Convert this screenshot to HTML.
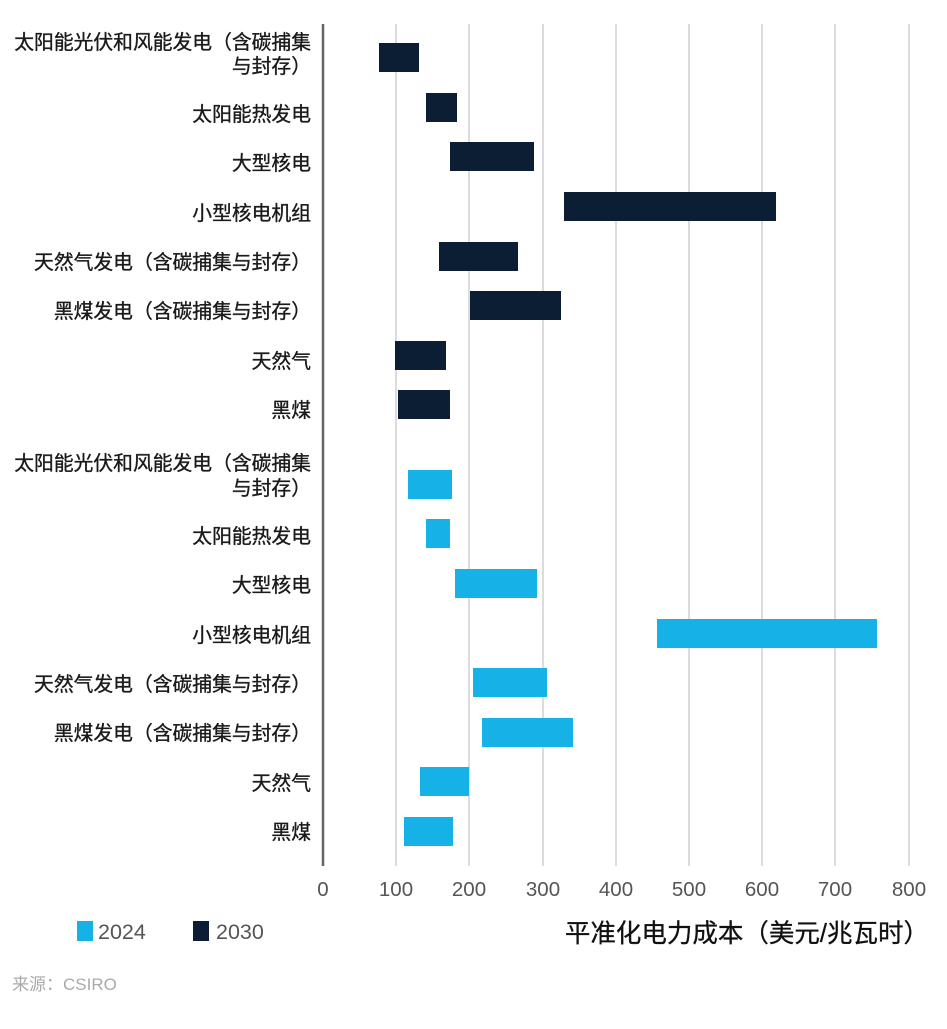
<!DOCTYPE html>
<html><head><meta charset="utf-8"><style>
body{margin:0;background:#fff;}
svg text{font-family:"Liberation Sans","Noto Sans CJK SC",sans-serif;}
</style></head><body>
<svg width="947" height="1024" viewBox="0 0 947 1024" xmlns="http://www.w3.org/2000/svg">
<rect width="947" height="1024" fill="#fff"/>
<g stroke="#dcdcdc" stroke-width="2">
<line x1="396" y1="24" x2="396" y2="866"/><line x1="469" y1="24" x2="469" y2="866"/>
<line x1="543" y1="24" x2="543" y2="866"/><line x1="616" y1="24" x2="616" y2="866"/>
<line x1="689" y1="24" x2="689" y2="866"/><line x1="762" y1="24" x2="762" y2="866"/>
<line x1="835" y1="24" x2="835" y2="866"/><line x1="909" y1="24" x2="909" y2="866"/>
</g>
<line x1="323" y1="24" x2="323" y2="866" stroke="#666" stroke-width="2.5"/>
<g fill="#0b1e33">
<rect x="379" y="43" width="40" height="29"/>
<rect x="426" y="93" width="31" height="29"/>
<rect x="450" y="142" width="84" height="29"/>
<rect x="564" y="192" width="212" height="29"/>
<rect x="439" y="242" width="79" height="29"/>
<rect x="470" y="291" width="91" height="29"/>
<rect x="395" y="341" width="51" height="29"/>
<rect x="398" y="390" width="52" height="29"/>
</g>
<g fill="#16b1e6">
<rect x="408" y="470" width="44" height="29"/>
<rect x="426" y="519" width="24" height="29"/>
<rect x="455" y="569" width="82" height="29"/>
<rect x="657" y="619" width="220" height="29"/>
<rect x="473" y="668" width="74" height="29"/>
<rect x="482" y="718" width="91" height="29"/>
<rect x="420" y="767" width="49" height="29"/>
<rect x="404" y="817" width="49" height="29"/>
</g>
<g font-size="19.8" fill="#1a1a1a" stroke="#1a1a1a" stroke-width="0.35" text-anchor="end">
<text x="311" y="49">太阳能光伏和风能发电（含碳捕集</text>
<text x="311" y="73">与封存）</text>
<text x="311" y="121">太阳能热发电</text>
<text x="311" y="170">大型核电</text>
<text x="311" y="220">小型核电机组</text>
<text x="311" y="269">天然气发电（含碳捕集与封存）</text>
<text x="311" y="318">黑煤发电（含碳捕集与封存）</text>
<text x="311" y="368">天然气</text>
<text x="311" y="417">黑煤</text>
<text x="311" y="470">太阳能光伏和风能发电（含碳捕集</text>
<text x="311" y="495">与封存）</text>
<text x="311" y="543">太阳能热发电</text>
<text x="311" y="592">大型核电</text>
<text x="311" y="642">小型核电机组</text>
<text x="311" y="691">天然气发电（含碳捕集与封存）</text>
<text x="311" y="740">黑煤发电（含碳捕集与封存）</text>
<text x="311" y="790">天然气</text>
<text x="311" y="839">黑煤</text>
</g>
<g font-size="20.5" fill="#555" text-anchor="middle">
<text x="323" y="896">0</text><text x="396" y="896">100</text><text x="469" y="896">200</text>
<text x="543" y="896">300</text><text x="616" y="896">400</text><text x="689" y="896">500</text>
<text x="762" y="896">600</text><text x="835" y="896">700</text><text x="909" y="896">800</text>
</g>
<rect x="77" y="921" width="16" height="20" fill="#16b1e6"/>
<text x="98" y="939" font-size="21.5" fill="#555">2024</text>
<rect x="193" y="921" width="16" height="20" fill="#0b1e33"/>
<text x="216" y="939" font-size="21.5" fill="#555">2030</text>
<text x="929" y="942" font-size="25.5" fill="#111" stroke="#111" stroke-width="0.3" text-anchor="end">平准化电力成本（美元/兆瓦时）</text>
<text x="12" y="990" font-size="17" fill="#aaa">来源：CSIRO</text>
</svg>
</body></html>
